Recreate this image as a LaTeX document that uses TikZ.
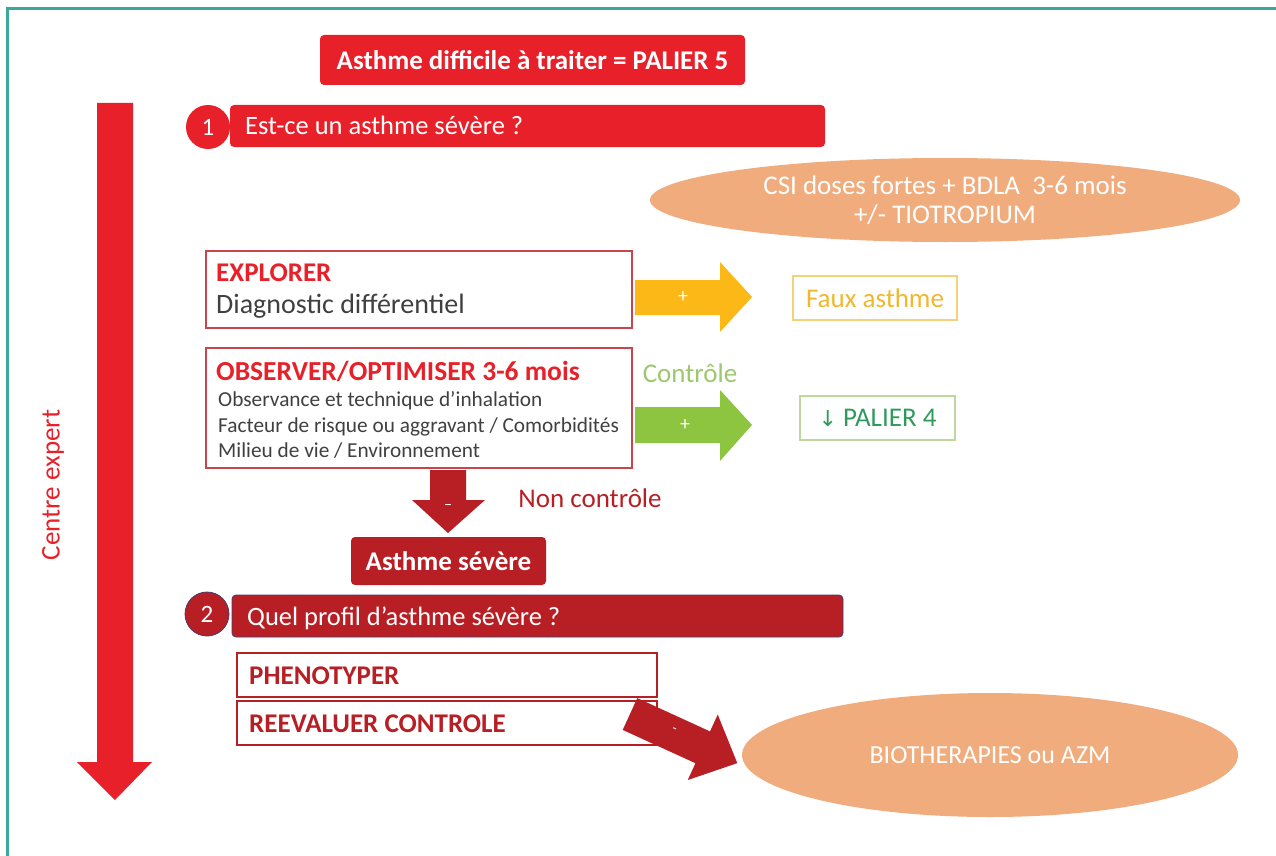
\documentclass[tikz,border=0pt]{standalone}
\usepackage{fontspec}
\setmainfont{Carlito}
\newfontfamily\symfont{DejaVu Sans}
\usetikzlibrary{shapes.geometric}
\definecolor{bred}{HTML}{E8202A}
\definecolor{dred}{HTML}{B81F25}
\definecolor{bordteal}{HTML}{3AA99A}
\definecolor{peach}{HTML}{F0AC7C}
\definecolor{ambre}{HTML}{FBB817}
\definecolor{ambretxt}{HTML}{F1B82D}
\definecolor{ambreline}{HTML}{F3D27A}
\definecolor{lgreen}{HTML}{8DC540}
\definecolor{ctrlgreen}{HTML}{9DC86E}
\definecolor{pgreen}{HTML}{2E9B5C}
\definecolor{pgreenline}{HTML}{BCD89A}
\definecolor{boxline}{HTML}{C9454B}
\definecolor{txtgray}{HTML}{404040}
\definecolor{navyline}{HTML}{4B3A6A}
\newcommand{\fsz}[1]{\fontsize{#1}{#1}\selectfont}
\tikzset{
  redbar/.style={fill=bred, rounded corners=4pt, text=white, inner sep=0pt},
  darkbar/.style={fill=dred, rounded corners=4pt, text=white, inner sep=0pt},
  numdisc/.style={circle, minimum size=44pt, inner sep=0pt, text=white, font=\fsz{25}},
  whitebox/.style={draw=boxline, line width=1.1pt, fill=white, inner sep=0pt},
  peachell/.style={ellipse, fill=peach, text=white, inner sep=0pt, align=center},
  smallbox/.style={fill=white, line width=1.1pt, inner sep=0pt},
  lbl/.style={inner sep=0pt, anchor=center},
  txtw/.style={inner sep=0pt, anchor=base west}
}
\begin{document}
\begin{tikzpicture}[x=1pt,y=-1pt]
\useasboundingbox (0,0) rectangle (1276,856);
\fill[white] (0,0) rectangle (1276,856);
\draw[bordteal, line width=3pt] (7,856) -- (7,9) -- (1276,9);

% title
\node[redbar, minimum width=425pt, minimum height=50pt, font=\bfseries\fsz{27}] (title) at (532.5,60) {Asthme difficile à traiter = PALIER 5};

% vertical arrow
\fill[bred] (97,103) -- (133,103) -- (133,762) -- (152,762) -- (115,800) -- (77,762) -- (97,762) -- cycle;
\node[lbl, rotate=90, text=bred, font=\fsz{27}] (centre) at (53,485) {Centre expert};

% step 1
\node[redbar, minimum width=595pt, minimum height=42pt] (bar1) at (527.5,126) {};
\node[txtw, text=white, font=\fsz{26.5}] (bar1t) at (245,135) {Est-ce un asthme sévère ?};
\node[numdisc, fill=bred] (n1) at (208,127) {1};

% ellipse 1
\node[peachell, minimum width=590pt, minimum height=84pt, font=\fontsize{27}{29}\selectfont] (csi) at (945,200) {CSI doses fortes + BDLA\ \ 3-6 mois\\+/- TIOTROPIUM};

% explorer box
\node[whitebox, minimum width=426pt, minimum height=77pt] (explore) at (419,289.5) {};
\node[txtw, text=bred, font=\bfseries\fsz{27}] (exploreT) at (216,281) {EXPLORER};
\node[txtw, text=txtgray, font=\fsz{28}] (exploreD) at (216,313) {Diagnostic différentiel};

% yellow arrow
\fill[ambre] (635,280) -- (720,280) -- (720,262) -- (752,297) -- (720,332) -- (720,315) -- (635,315) -- cycle;
\node[lbl, text=white, font=\fsz{20}] (plus1) at (683,297) {+};
\node[smallbox, draw=ambreline, minimum width=164pt, minimum height=44pt, text=ambretxt, font=\fsz{27}] (faux) at (875,298) {Faux asthme};

% observer box
\node[whitebox, minimum width=426pt, minimum height=120pt] (observe) at (419,408) {};
\node[txtw, text=bred, font=\bfseries\fsz{27.5}] (obsT) at (216,380) {OBSERVER/OPTIMISER 3-6 mois};
\node[txtw, text=txtgray, font=\fsz{21.3}] (obs1) at (218,406) {Observance et technique d’inhalation};
\node[txtw, text=txtgray, font=\fsz{21.3}] (obs2) at (218,432) {Facteur de risque ou aggravant / Comorbidités};
\node[txtw, text=txtgray, font=\fsz{21.3}] (obs3) at (218,457) {Milieu de vie / Environnement};

% green arrow
\node[lbl, text=ctrlgreen, font=\fsz{27}] (ctrl) at (690,373) {Contrôle};
\fill[lgreen] (635,407) -- (720,407) -- (720,390) -- (752,425) -- (720,461) -- (720,443) -- (635,443) -- cycle;
\node[lbl, text=white, font=\fsz{20}] (plus2) at (685,425) {+};
\node[smallbox, draw=pgreenline, minimum width=155pt, minimum height=44pt, text=pgreen, font=\fsz{27}] (pal4) at (877.5,418) {{\symfont\fsz{22}↓} PALIER 4};

% down arrow
\fill[dred] (430,470) -- (466,470) -- (466,500) -- (485,500) -- (448,533) -- (412,500) -- (430,500) -- cycle;
\node[lbl, text=white, font=\fsz{16}] (minus1) at (448,507) {–};
\node[lbl, text=dred, font=\fsz{27}] (nonctrl) at (590,498) {Non contrôle};

\node[darkbar, minimum width=195pt, minimum height=48pt, font=\bfseries\fsz{27}] (sev) at (448.5,561) {Asthme sévère};

% step 2
\node[darkbar, draw=navyline, line width=0.8pt, minimum width=611pt, minimum height=42pt] (bar2) at (537.5,616) {};
\node[txtw, text=white, font=\fsz{26.5}] (bar2t) at (247,625) {Quel profil d’asthme sévère ?};
\node[numdisc, fill=dred, draw=navyline, line width=0.8pt] (n2) at (207,614) {2};

\node[whitebox, draw=dred, minimum width=420pt, minimum height=44pt] (pheno) at (447,675) {};
\node[txtw, text=dred, font=\bfseries\fsz{27}] (phenoT) at (249,684) {PHENOTYPER};
\node[whitebox, draw=dred, minimum width=420pt, minimum height=44pt] (reeval) at (447,723) {};
\node[txtw, text=dred, font=\bfseries\fsz{27}] (reevalT) at (249,732) {REEVALUER CONTROLE};

% ellipse 2
\node[peachell, minimum width=496pt, minimum height=124pt, font=\fsz{26}] (bio) at (990,755) {BIOTHERAPIES ou AZM};

% diagonal arrow
\begin{scope}[shift={(630,714)}, rotate=-24.6]
\fill[dred] (0,-17.5) -- (80,-17.5) -- (80,-36) -- (118,0) -- (80,36) -- (80,17.5) -- (0,17.5) -- cycle;
\end{scope}
\node[lbl, text=white, font=\fsz{14}, rotate=-24.6] (minus2) at (674,730) {-};
\end{tikzpicture}
\end{document}
